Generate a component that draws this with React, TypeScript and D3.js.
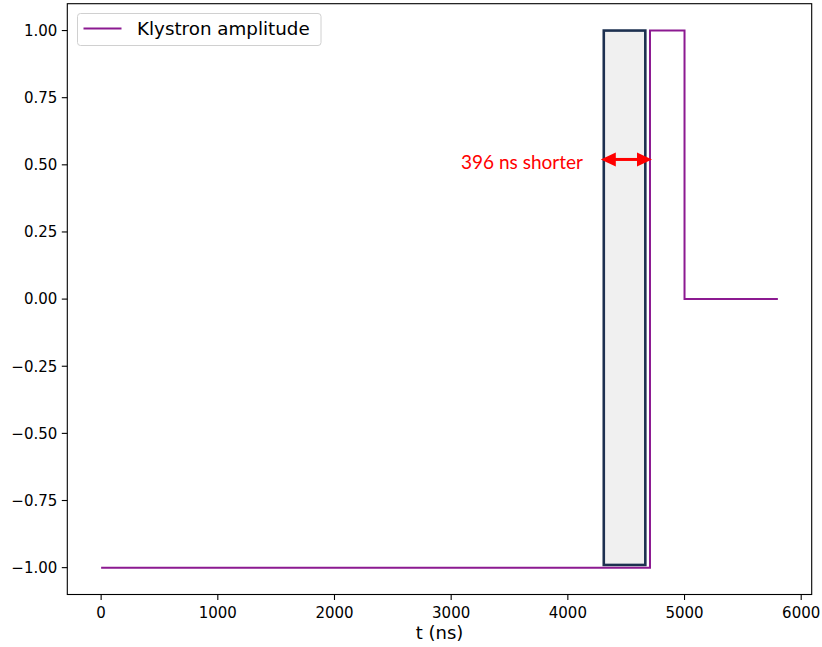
import React from "react";
import * as d3 from "d3";

// Klystron amplitude step signal (time in ns, amplitude normalised)
const timeNs = [0, 4704, 4704, 5000, 5000, 5800];
const amplitude = [-1, -1, 1, 1, 0, 0];

// Highlighted pulse window and the shortening it shows
const windowStart = 4308;
const windowEnd = 4664;
const windowTop = 1;
const windowBottom = -0.99;
const riseTime = 4704;
const arrowLevel = 0.52;

const xTicks = [0, 1000, 2000, 3000, 4000, 5000, 6000];
const yTicks = [-1, -0.75, -0.5, -0.25, 0, 0.25, 0.5, 0.75, 1];

const seriesName = "Klystron amplitude";
const xLabel = "t (ns)";

const W = 822;
const H = 647;
const M = { left: 67.3, right: 811.7, top: 3.7, bottom: 594.5 };

export default function App() {
  const x = d3.scaleLinear().domain([-290, 6090]).range([M.left, M.right]);
  const y = d3.scaleLinear().domain([-1.1, 1.1]).range([M.bottom, M.top]);

  const pts: [number, number][] = timeNs.map((t, i) => [t, amplitude[i]]);
  const line = d3
    .line<[number, number]>()
    .x((d) => x(d[0]))
    .y((d) => y(d[1]));

  const fmtY = d3.format(".2f");
  const purple = "#8c1a91";
  const tickFont = "DejaVu Sans";

  const ax0 = x(windowStart) - 3;
  const ax1 = x(riseTime) + 2;
  const ay = y(arrowLevel);
  const headL = 15;
  const headH = 7;

  return (
    <svg
      width={W}
      height={H}
      style={{ position: "absolute", left: 0, top: 0, background: "#fff" }}
      fontFamily={tickFont}
    >
      {/* highlighted window */}
      <rect
        x={x(windowStart)}
        y={y(windowTop)}
        width={x(windowEnd) - x(windowStart)}
        height={y(windowBottom) - y(windowTop)}
        fill="#f0f0f0"
        stroke="#1d3050"
        strokeWidth={2.6}
      />

      {/* signal */}
      <path d={line(pts) || ""} fill="none" stroke={purple} strokeWidth={2} />

      {/* axes frame */}
      <rect
        x={M.left}
        y={M.top}
        width={M.right - M.left}
        height={M.bottom - M.top}
        fill="none"
        stroke="#000"
        strokeWidth={1.1}
      />

      {/* x ticks */}
      {xTicks.map((t) => (
        <g key={"x" + t}>
          <line x1={x(t)} x2={x(t)} y1={M.bottom} y2={M.bottom + 5.5} stroke="#000" strokeWidth={1.1} />
          <text x={x(t)} y={M.bottom + 23} fontSize={15} textAnchor="middle" fill="#000">
            {t}
          </text>
        </g>
      ))}

      {/* y ticks */}
      {yTicks.map((v) => (
        <g key={"y" + v}>
          <line x1={M.left - 5.5} x2={M.left} y1={y(v)} y2={y(v)} stroke="#000" strokeWidth={1.1} />
          <text x={M.left - 10} y={y(v) + 5.3} fontSize={15} textAnchor="end" fill="#000">
            {fmtY(v)}
          </text>
        </g>
      ))}

      <text x={(M.left + M.right) / 2} y={639} fontSize={18} textAnchor="middle" fill="#000">
        {xLabel}
      </text>

      {/* legend */}
      <rect x={77.5} y={13.5} width={243.5} height={32} rx={3} fill="#fff" fillOpacity={0.8} stroke="#d0d0d0" strokeWidth={1} />
      <line x1={83.5} x2={121.5} y1={28.5} y2={28.5} stroke={purple} strokeWidth={2} />
      <text x={137} y={34.5} fontSize={18.3} fill="#000">
        {seriesName}
      </text>

      {/* double-headed arrow marking the shortening */}
      <line x1={ax0 + headL - 1} x2={ax1 - headL + 1} y1={ay} y2={ay} stroke="#ff0000" strokeWidth={3} />
      <polygon
        points={`${ax0},${ay} ${ax0 + headL},${ay - headH} ${ax0 + headL},${ay + headH}`}
        fill="#ff0000"
      />
      <polygon
        points={`${ax1},${ay} ${ax1 - headL},${ay - headH} ${ax1 - headL},${ay + headH}`}
        fill="#ff0000"
      />
      <text
        x={583}
        y={169}
        fontSize={20}
        fontFamily="Lato, 'Open Sans', sans-serif"
        textAnchor="end"
        fill="#ff0000"
        textLength={122}
        lengthAdjust="spacingAndGlyphs"
      >
        {`${riseTime - windowStart} ns shorter`}
      </text>
    </svg>
  );
}
